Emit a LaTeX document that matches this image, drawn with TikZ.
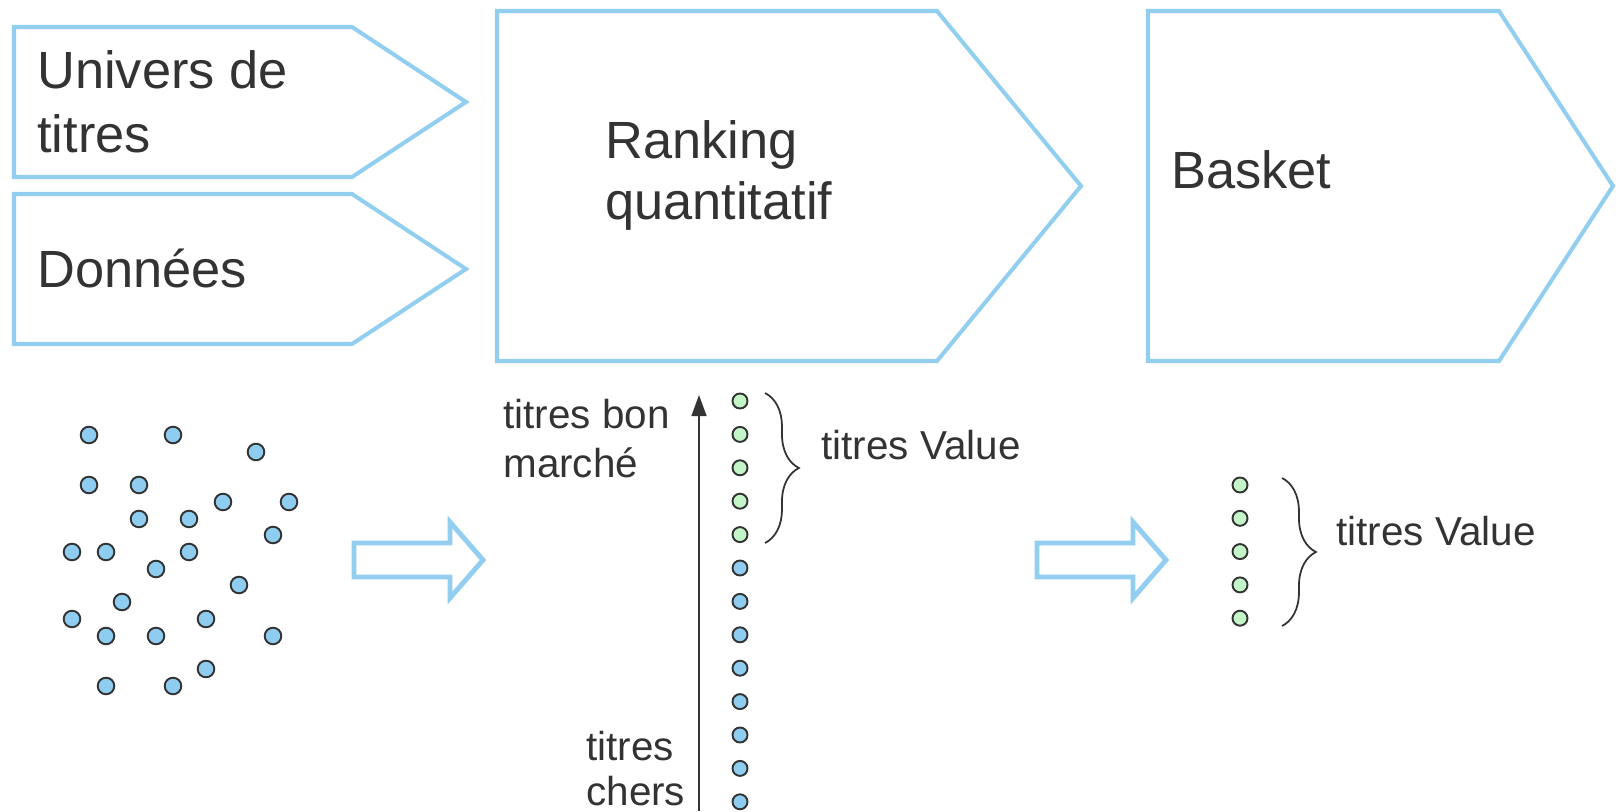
\documentclass[tikz,border=0pt]{standalone}
\usepackage{fontspec}
\setmainfont{Liberation Sans}
\usetikzlibrary{arrows.meta,decorations.pathreplacing}
\definecolor{boxblue}{RGB}{146,206,240}
\definecolor{dotblue}{RGB}{143,205,240}
\definecolor{dotgreen}{RGB}{196,245,200}
\definecolor{ink}{RGB}{51,51,51}
\tikzset{
	stepshape/.style={draw=boxblue,line width=2.3pt,fill=white},
	bigarrow/.style={draw=boxblue,line width=2.8pt,fill=white},
	bigtext/.style={anchor=base west,inner sep=0pt,text=ink,font=\fontsize{29.8}{36}\selectfont},
	smalltext/.style={anchor=base west,inner sep=0pt,text=ink,font=\fontsize{23}{28}\selectfont},
	bluedot/.style={draw=ink,line width=1.1pt,fill=dotblue},
	greendot/.style={draw=ink,line width=1.1pt,fill=dotgreen},
	curly/.style={draw=ink,line width=1pt,decorate,decoration={brace,amplitude=19.3pt}}
}
\begin{document}
\begin{tikzpicture}[x=0.02cm,y=-0.02cm]
			\useasboundingbox (0,0) rectangle (1618,811);
			% the four steps
			\draw[stepshape] (14,27) -- (352,27) -- (466,102) -- (352,177) -- (14,177) -- cycle;
			\draw[stepshape] (14,194) -- (352,194) -- (466,269) -- (352,344) -- (14,344) -- cycle;
			\draw[stepshape] (497,11) -- (937,11) -- (1081,186) -- (937,361) -- (497,361) -- cycle;
			\draw[stepshape] (1148,11) -- (1499,11) -- (1613,186) -- (1499,361) -- (1148,361) -- cycle;
			\node[bigtext] (univers) at (37,89) {Univers de};
			\node[bigtext] (univers2) at (37,153) {titres};
			\node[bigtext] (donnees) at (37,287) {Données};
			\node[bigtext] (ranking) at (605,158) {Ranking};
			\node[bigtext] (ranking2) at (605,219) {quantitatif};
			\node[bigtext] (basket) at (1171,188) {Basket};
			% cloud of titres
			\foreach \x/\y in {89/435,173/435,256/452,89/485,139/485,223/502,289/502,139/519,189/519,273/535,
				72/552,106/552,189/552,156/569,239/585,122/602,72/619,206/619,106/636,156/636,273/636,
				206/669,106/686,173/686}
				\draw[bluedot] (\x,\y) circle[radius=8.3];
			\draw[bigarrow] (354,543) -- (450,543) -- (450,522) -- (483,560) -- (450,598) -- (450,577) -- (354,577) -- cycle;
			% ranked column
			\coordinate (cheap) at (699,811);
			\coordinate (rich) at (699,395);
			\draw[ink,line width=1pt,-{Triangle[length=12pt,width=8.5pt]}] (cheap) -- (rich);
			\foreach \i in {0,...,4}
				\draw[greendot] (740,401+33.4*\i) circle[radius=7.5];
			\foreach \i in {5,...,12}
				\draw[bluedot] (740,401+33.4*\i) circle[radius=7.5];
			\node[smalltext] (bon) at (503,428) {titres bon};
			\node[smalltext] (bon2) at (503,477) {marché};
			\node[smalltext] (chers) at (586,760) {titres};
			\node[smalltext] (chers2) at (586,805) {chers};
			\draw[curly] (765,393) -- (765,543);
			\node[smalltext] (value) at (821,459) {titres Value};
			\draw[bigarrow] (1037,543) -- (1133,543) -- (1133,522) -- (1166,560) -- (1133,598) -- (1133,577) -- (1037,577) -- cycle;
			% basket
			\foreach \i in {0,...,4}
				\draw[greendot] (1240,485+33.3*\i) circle[radius=7.5];
			\draw[curly] (1282,478) -- (1282,626);
			\node[smalltext] (basketvalue) at (1336,545) {titres Value};
		\end{tikzpicture}
\end{document}
